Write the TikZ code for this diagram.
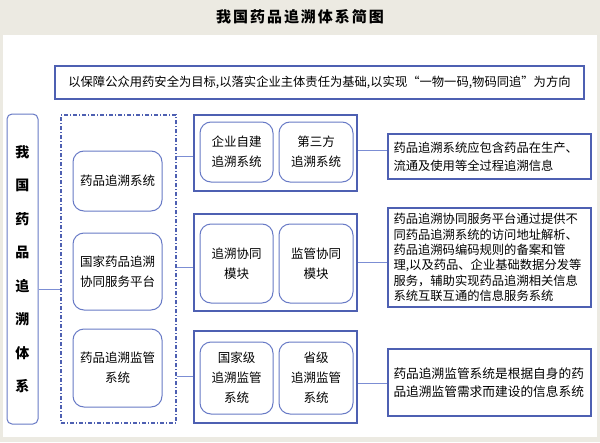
\documentclass[tikz,border=0pt]{standalone}
\usepackage{fontspec}
\usepackage{xcolor}
\setmainfont{Noto Sans CJK SC}
\newfontfamily\titlefont[LetterSpace=13]{Noto Sans CJK SC}
\definecolor{framecol}{RGB}{78,96,178}
\definecolor{roundcol}{RGB}{104,122,198}
\definecolor{linkcol}{RGB}{124,142,212}
\definecolor{headbg}{RGB}{236,234,226}

\begin{document}
\begin{tikzpicture}[x=1pt, y=-1pt,
  frame/.style={draw=framecol, line width=1.5pt, fill=white, inner sep=0pt, align=center, font=\fontsize{12.5}{20}\selectfont},
  rbox/.style={draw=roundcol, line width=1pt, rounded corners=11pt, fill=white, inner sep=0pt, align=center, font=\fontsize{12.5}{20}\selectfont},
  desc/.style={frame, minimum width=203pt, text width=192pt, align=left, font=\fontsize{12.5}{17.5}\selectfont},
  link/.style={draw=linkcol, line width=0.9pt}]
  \useasboundingbox (0,0) rectangle (600,442);
  \fill[headbg] (0,0) rectangle (600,442);
  \fill[white] (3,35) rectangle (597,437);
  \node[font=\titlefont\fontsize{15}{15}\selectfont\bfseries] (title) at (300,17) {我国药品追溯体系简图};
  \node[frame, line width=2pt, minimum width=529pt, minimum height=33pt, font=\fontsize{12.3}{14}\selectfont] (goal) at (319.5,82.5)
    {以保障公众用药安全为目标,以落实企业主体责任为基础,以实现“一物一码,物码同追”为方向};

  \node[rbox, rounded corners=5pt, minimum width=31pt, minimum height=310pt, font=\fontsize{14}{33.5}\selectfont\bfseries] (vt) at (22.5,269)
    {我\\国\\药\\品\\追\\溯\\体\\系};
  \node[draw=framecol, line width=1.1pt, dash pattern=on 4pt off 2pt on 1pt off 2pt, minimum width=115pt, minimum height=308pt] (sysframe) at (118.5,269) {};
  \node[rbox, minimum width=89pt, minimum height=60pt] (sys) at (117.5,181) {药品追溯系统};
  \node[rbox, minimum width=89pt, minimum height=77pt] (plat) at (117.5,271.5) {国家药品追溯\\协同服务平台};
  \node[rbox, minimum width=89pt, minimum height=78pt] (sup) at (117.5,368) {药品追溯监管\\系统};

  \node[frame, minimum width=163pt, minimum height=76pt] (g1) at (275.5,153) {};
  \node[frame, minimum width=163pt, minimum height=97pt] (g2) at (275.5,262.5) {};
  \node[frame, minimum width=163pt, minimum height=92pt] (g3) at (275.5,377) {};
  \node[rbox, minimum width=73pt, minimum height=60pt] (own) at (236.5,152) {企业自建\\追溯系统};
  \node[rbox, minimum width=74pt, minimum height=60pt] (third) at (316,152) {第三方\\追溯系统};
  \node[rbox, minimum width=73pt, minimum height=79pt] (tmod) at (236.5,263.5) {追溯协同\\模块};
  \node[rbox, minimum width=74pt, minimum height=79pt] (smod) at (316,263.5) {监管协同\\模块};
  \node[rbox, minimum width=73pt, minimum height=72pt] (natl) at (236.5,378) {国家级\\追溯监管\\系统};
  \node[rbox, minimum width=74pt, minimum height=72pt] (prov) at (316,378) {省级\\追溯监管\\系统};

  \node[desc, minimum height=45pt, font=\fontsize{12.3}{18}\selectfont] (d1) at (489.5,156.5)
    {药品追溯系统应包含药品在生产、\\流通及使用等全过程追溯信息};
  \node[desc, minimum height=99pt, font=\fontsize{12.3}{15.4}\selectfont] (d2) at (489.5,257.5)
    {药品追溯协同服务平台通过提供不\\同药品追溯系统的访问地址解析、\\药品追溯码编码规则的备案和管\\理,以及药品、企业基础数据分发等\\服务，辅助实现药品追溯相关信息\\系统互联互通的信息服务系统};
  \node[desc, minimum height=67pt, font=\fontsize{12.7}{18}\selectfont] (d3) at (489.5,382.5)
    {药品追溯监管系统是根据自身的药\\品追溯监管需求而建设的信息系统};

  \draw[link] (vt.east |- 0,289) -- (sysframe.west |- 0,289);
  \draw[link] (sysframe.east |- 0,156) -- (g1.west |- 0,156);
  \draw[link] (sysframe.east |- 0,267) -- (g2.west |- 0,267);
  \draw[link] (sysframe.east |- 0,376) -- (g3.west |- 0,376);
  \draw[link] (g1.east |- 0,150) -- (d1.west |- 0,150);
  \draw[link] (g2.east |- 0,262) -- (d2.west |- 0,262);
  \draw[link] (g3.east |- 0,383) -- (d3.west |- 0,383);
\end{tikzpicture}
\end{document}
